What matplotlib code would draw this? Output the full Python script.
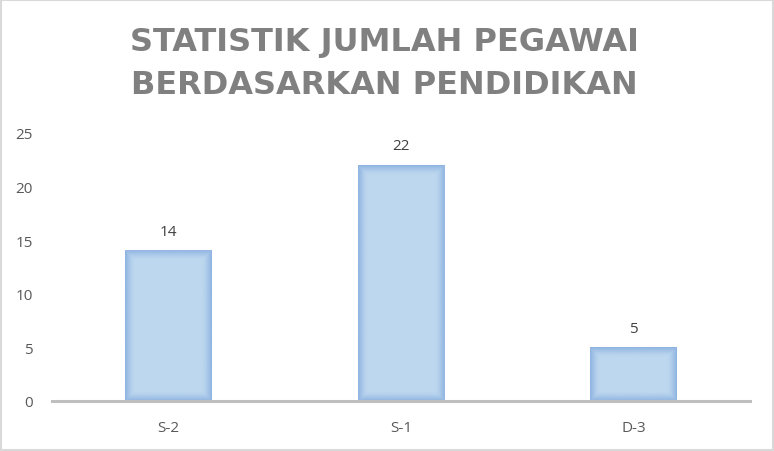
import numpy as np
import matplotlib.pyplot as plt
from matplotlib.patches import Rectangle

categories = ["S-2", "S-1", "D-3"]
jumlah = [14, 22, 5]
y_ticks = [0, 5, 10, 15, 20, 25]
title_lines = ["STATISTIK JUMLAH PEGAWAI", "BERDASARKAN PENDIDIKAN"]

plt.rcParams['font.family'] = ['Open Sans', 'DejaVu Sans']

W, H = 774, 452
fig = plt.figure(figsize=(W / 100, H / 100), dpi=100)
fig.patch.set_facecolor('white')

# light frame round the chart
fig.add_artist(Rectangle((1 / W, 1 / H), 1 - 2 / W, 1 - 2 / H, transform=fig.transFigure,
                         fill=False, edgecolor='#d9d9d9', linewidth=1.5))

ax = fig.add_axes([52 / W, 50 / H, (750 - 52) / W, (402 - 134) / H])
x = np.arange(len(categories))
bars = ax.bar(x, jumlah, width=0.373, color='#bdd7ee', edgecolor='none', zorder=2)
ax.set_xlim(-0.5, len(categories) - 0.5)
ax.set_ylim(0, 25)
ax.set_yticks(y_ticks)
ax.set_xticks(x)
ax.set_xticklabels(categories)

for s in ['top', 'right', 'left']:
    ax.spines[s].set_visible(False)
ax.spines['bottom'].set_color('#bfbfbf')
ax.spines['bottom'].set_linewidth(2.2)
ax.spines['bottom'].set_zorder(3)
ax.tick_params(length=0, labelsize=11, colors='#595959')
ax.tick_params(axis='y', pad=14)
ax.tick_params(axis='x', pad=14)

# soft darker edge inside each bar
fig.canvas.draw()
edge_rgb = np.array([0x8a, 0xb0, 0xe0]) / 255
for b in bars:
    x0, y0 = b.get_x(), b.get_y()
    bw, bh = b.get_width(), b.get_height()
    p0 = ax.transData.transform((x0, y0))
    p1 = ax.transData.transform((x0 + bw, y0 + bh))
    nw, nh = int(abs(p1[0] - p0[0])), int(abs(p1[1] - p0[1]))
    xx = np.arange(nw) + 0.5
    yy = np.arange(nh) + 0.5
    dx = np.minimum(xx, nw - xx)[None, :]
    dy = np.minimum(yy, nh - yy)[:, None]
    d = np.minimum(dx, dy)
    a = np.clip(1 - d / 10, 0, 1) ** 1.5 * 0.95
    img = np.zeros((nh, nw, 4))
    img[..., :3] = edge_rgb
    img[..., 3] = a
    ax.imshow(img, extent=(x0, x0 + bw, y0, y0 + bh), aspect='auto',
              interpolation='bilinear', zorder=2.5)
    ax.text(x0 + bw / 2, bh + 1.1, str(int(bh)), ha='center', va='bottom',
            fontsize=11, color='#404040')

ax.set_xlim(-0.5, len(categories) - 0.5)
ax.set_ylim(0, 25)

fig.text(384 / W, 1 - 43 / H, title_lines[0], ha='center', va='center',
         fontsize=23, fontweight='bold', color='#808080', family='DejaVu Sans')
fig.text(384 / W, 1 - 86 / H, title_lines[1], ha='center', va='center',
         fontsize=23, fontweight='bold', color='#808080', family='DejaVu Sans')

fig.savefig('out.png', dpi=100)
